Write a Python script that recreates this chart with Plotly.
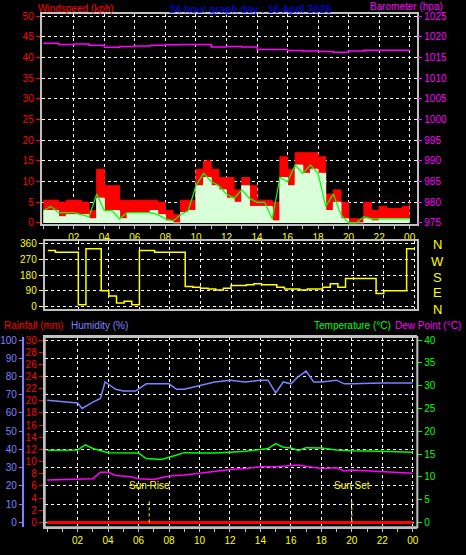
import plotly.graph_objects as go

W, H = 466, 555

# ---- data ----
half_hours = [i * 0.5 for i in range(49)]
gust = [5.5, 5.5, 5, 5.5, 5.5, 5, 3, 13, 9, 9, 5.5, 5.5, 5.5, 5.5, 5.5, 5, 3, 2, 5.5, 5.5,
        13, 15, 13, 11, 11, 8, 11, 9, 5.5, 5.5, 5, 16, 13, 17, 17, 17, 16, 7, 8, 5,
        1, 1, 5, 3, 4, 3.5, 3.5, 4, 5]
speed = [3, 3, 1.5, 2, 2, 2, 1, 6, 3, 3, 1, 2.5, 2.5, 2.5, 3, 2, 0.5, 0, 2.5, 3,
         9, 11, 9, 8, 6, 5, 9, 4, 4, 4, 0.5, 11, 9, 14, 12, 13, 12, 3, 5, 1,
         0, 0, 1, 0.5, 1, 1, 1, 1, 1]
avg_speed = [3, 4, 2.5, 2.5, 2.5, 2, 1.5, 7, 3, 3, 1, 2.5, 2.5, 2.5, 2.5, 2, 1, 0.5, 2, 3,
             9, 12, 10, 9, 7, 6, 8, 6, 5, 5, 1, 11, 10, 14, 12, 14, 12, 4, 7, 2,
             0, 0, 1.5, 1, 1, 1, 1, 1, 1]
direction = [320, 310, 310, 310, 10, 330, 330, 90, 60, 20, 30, 10, 320, 320, 310, 310, 310, 310, 115, 110,
             105, 100, 95, 105, 120, 120, 125, 130, 125, 125, 110, 100, 100, 95, 100, 100, 110, 130, 110, 160,
             160, 160, 160, 75, 90, 90, 90, 330, 330]

baro_hours = list(range(25))
barometer = [1018.5, 1018.2, 1018.3, 1018, 1017.5, 1017.7, 1017.8, 1018, 1018.1, 1018.2, 1018.2, 1017.6,
             1017.7, 1017.6, 1017, 1017, 1016.7, 1016.6, 1016.5, 1016.3, 1016.6, 1016.8, 1016.8, 1016.8, 1016.7]

hum_hours = [0, 2, 2.3, 3, 3.5, 3.8, 4.5, 5, 5.8, 6.5, 8, 8.5, 9, 10, 11, 12, 13, 14, 14.5, 15, 15.5,
             16, 16.5, 17, 17.5, 18, 19, 19.5, 20, 22, 24]
humidity = [67, 65.5, 62.5, 66, 68, 77, 73, 72, 72, 76, 76, 73, 73, 75, 77, 78, 77, 78, 78, 71, 77,
            76, 80, 83, 77, 77, 78, 76, 76, 76.5, 76.5]

temp_hours = [0, 2, 2.5, 3, 4, 5, 6, 6.5, 7.5, 8.5, 9, 10, 11, 12, 13, 14, 14.5, 15, 15.5, 16, 16.5,
              17, 18, 19, 20, 22, 24]
temperature = [15.8, 15.9, 17, 16.2, 15.3, 15.2, 15.2, 14, 13.8, 14.8, 15.3, 15.2, 15.2, 15.4, 15.6, 16,
               16.2, 17.3, 16.5, 16.3, 15.8, 16.4, 16.3, 15.9, 15.7, 15.6, 15.4]

dew_hours = [0, 2, 3, 3.5, 4, 4.5, 5.5, 6, 7, 8, 9, 10, 11, 12, 13, 14, 15, 16, 16.5, 17, 18, 19,
             19.5, 20, 22, 24]
dew_point = [9.3, 9.5, 9.6, 11, 11, 10.3, 10, 9.6, 9.4, 10.2, 10.4, 10.8, 11.2, 11.6, 11.8, 12.2, 12.2,
             12.5, 12.6, 12.3, 11.8, 12, 11.3, 11.5, 11.2, 10.8]

rain_hours = [0, 24]
rainfall = [0, 0]

sun_events = [6.7, 20.0]
sun_labels = ["Sun Rise", "Sun Set"]

even_hours = list(range(2, 25, 2))
hour_labels = ["%02d" % (h % 24) for h in even_hours]

FONT = "Liberation Sans"


def px(x):
    return x / W


def py(y):
    return 1 - y / H


fig = go.Figure()

# wind panel
fig.add_trace(go.Scatter(x=half_hours, y=gust, mode="lines", line=dict(color="red", width=1, shape="hv"),
                         fill="tozeroy", fillcolor="red", xaxis="x", yaxis="y"))
fig.add_trace(go.Scatter(x=half_hours, y=speed, mode="lines", line=dict(color="#e0ffe0", width=1, shape="hv"),
                         fill="tozeroy", fillcolor="#d8ffd8", xaxis="x", yaxis="y"))
fig.add_trace(go.Scatter(x=half_hours, y=avg_speed, mode="lines", line=dict(color="#00ff00", width=1.2),
                         xaxis="x", yaxis="y"))
fig.add_trace(go.Scatter(x=baro_hours, y=barometer, mode="lines", line=dict(color="#ff00ff", width=1.5, shape="hv"),
                         xaxis="x", yaxis="y2"))

# direction panel
fig.add_trace(go.Scatter(x=half_hours, y=direction, mode="lines", line=dict(color="yellow", width=1.5, shape="hv"),
                         xaxis="x2", yaxis="y3"))

# bottom panel
fig.add_trace(go.Scatter(x=hum_hours, y=humidity, mode="lines", line=dict(color="#8080ff", width=1.5),
                         xaxis="x3", yaxis="y4"))
fig.add_trace(go.Scatter(x=temp_hours, y=temperature, mode="lines", line=dict(color="#00ff00", width=1.5),
                         xaxis="x3", yaxis="y6"))
fig.add_trace(go.Scatter(x=dew_hours, y=dew_point, mode="lines", line=dict(color="#ff00ff", width=1.5),
                         xaxis="x3", yaxis="y6"))
fig.add_trace(go.Scatter(x=rain_hours, y=rainfall, mode="lines", line=dict(color="red", width=3),
                         xaxis="x3", yaxis="y5"))

grid = dict(showgrid=True, gridcolor="white", griddash="dot", gridwidth=1, zeroline=False)
frame = dict(showline=True, linecolor="#c0c0c0", linewidth=2, mirror=True)
tickf = dict(family=FONT, size=10)

xcommon = dict(tickvals=even_hours, ticktext=hour_labels, ticks="outside", ticklen=3,
               tickcolor="#c0c0c0", tickfont=dict(tickf, color="yellow"),
               minor=dict(dtick=1, tick0=1, ticks="outside", ticklen=3, tickcolor="#c0c0c0"))

fig.update_layout(
    width=W, height=H, margin=dict(l=0, r=0, t=0, b=0),
    paper_bgcolor="black", plot_bgcolor="black", showlegend=False,
    xaxis=dict(domain=[px(40), px(418)], range=[-0.1, 24.5], anchor="y", **xcommon, **grid, **frame),
    yaxis=dict(domain=[py(224), py(11)], range=[-0.2, 50.6], dtick=5, ticks="outside", ticklen=4,
               tickcolor="red", tickfont=dict(tickf, color="red"), **grid, **frame),
    yaxis2=dict(overlaying="y", side="right", range=[974.8, 1025.6], dtick=5, ticks="outside", ticklen=4,
                tickcolor="#ff00ff", tickfont=dict(tickf, color="#ff00ff"), showgrid=False, zeroline=False),
    xaxis2=dict(domain=[px(43), px(418)], range=[-0.2, 24.2], anchor="y3", tickvals=even_hours,
                showticklabels=False, **grid, **frame),
    yaxis3=dict(domain=[py(310), py(241)], range=[-11, 377], tickvals=[0, 90, 180, 270, 360],
                ticks="outside", ticklen=4, tickcolor="yellow", tickfont=dict(tickf, color="yellow"),
                anchor="x2", **grid, **frame),
    xaxis3=dict(domain=[px(43), px(418)], range=[-0.16, 24.3], anchor="y4", **xcommon, **grid, **frame),
    yaxis4=dict(domain=[py(532), py(339)], range=[-2.7, 101.6], dtick=10, anchor="free", position=px(21),
                showline=True, linecolor="#8080ff", linewidth=2, ticks="outside", ticklen=3,
                tickcolor="#8080ff", tickfont=dict(tickf, color="#8080ff"),
                showgrid=True, gridcolor="white", griddash="dot", zeroline=False),
    yaxis5=dict(overlaying="y4", anchor="x3", side="left", range=[-0.81, 30.48], dtick=2, ticks="outside",
                ticklen=4, tickcolor="red", tickfont=dict(tickf, color="red"), showgrid=False, zeroline=False,
                showline=True, linecolor="#c0c0c0", linewidth=2),
    yaxis6=dict(overlaying="y4", anchor="x3", side="right", range=[-1.08, 40.64], dtick=5, ticks="outside",
                ticklen=4, tickcolor="#00ff00", tickfont=dict(tickf, color="#00ff00"), showgrid=False,
                zeroline=False),
)

# rectangle frame for bottom panel (right edge)
fig.add_shape(type="rect", xref="paper", yref="paper", x0=px(43), x1=px(418), y0=py(532), y1=py(339),
              line=dict(color="#c0c0c0", width=2))

def label(text, x, y, color, anchor="left", size=10):
    fig.add_annotation(text=text, x=px(x), y=py(y), xref="paper", yref="paper", showarrow=False,
                       xanchor=anchor, yanchor="middle", font=dict(family=FONT, size=size, color=color))

label("Windspeed (kph)", 34, 6, "red")
label("24 hour graph day : 16 April 2026", 250, 6, "#0000ff", "center", 11)
label("Barometer (hpa)", 446, 4, "#ff00ff", "right")
label("Rainfall (mm)", 0, 327, "red")
label("Humidity (%)", 67, 327, "#8080ff")
label("Temperature (°C)", 312, 327, "#00ff00")
label("Dew Point (°C)", 464, 327, "#ff00ff", "right")

for letter, y in zip(["N", "W", "S", "E", "N"], [245, 262, 279, 294, 311]):
    label(letter, 438, y, "yellow", "center", 13)

for h, t in zip(sun_events, sun_labels):
    fig.add_annotation(text=t, x=h, y=py(497), xref="x3", yref="paper", showarrow=False,
                       font=dict(family=FONT, size=10, color="yellow"))
    fig.add_shape(type="line", xref="x3", yref="paper", x0=h, x1=h, y0=py(527), y1=py(504),
                  line=dict(color="yellow", width=1, dash="dot"))

fig.write_html("out.html", config={"displayModeBar": False},
               post_script="document.body.style.margin='0';")
